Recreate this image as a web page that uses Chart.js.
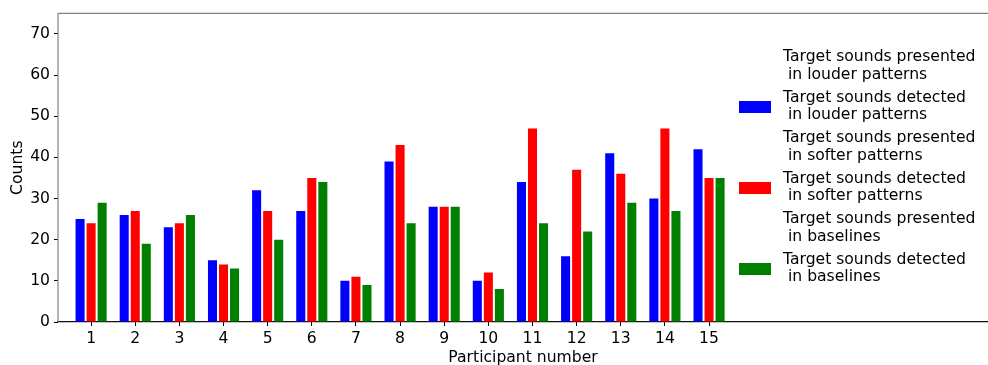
<!DOCTYPE html>
<html>
<head>
<meta charset="utf-8">
<script src="https://cdn.jsdelivr.net/npm/chart.js@4/dist/chart.umd.min.js"></script>
<style>
  html, body { margin: 0; padding: 0; background: #fff; }
  #wrap { position: relative; width: 988px; height: 365px; }
  #legend { position: absolute; left: 739px; top: 48px; font-family: "DejaVu Sans", sans-serif; font-size: 15.6px; color: #000; }
  .item { position: relative; height: 40.6px; }
  .sw { position: absolute; left: 0; top: 12.5px; width: 32px; height: 12px; }
  .txt { position: absolute; left: 44px; top: 0; white-space: pre; line-height: 17.5px; }
</style>
</head>
<body>
<div id="wrap">
  <canvas id="barChart" width="988" height="365"></canvas>
  <div id="legend"></div>
</div>
<script>
  // participants 1..15
  const participants = [1, 2, 3, 4, 5, 6, 7, 8, 9, 10, 11, 12, 13, 14, 15];

  const detectedLouder = [25, 26, 23, 15, 32, 27, 10, 39, 28, 10, 34, 16, 41, 30, 42];
  const detectedSofter = [24, 27, 24, 14, 27, 35, 11, 43, 28, 12, 47, 37, 36, 47, 35];
  const detectedBase   = [29, 19, 26, 13, 20, 34, 9, 24, 28, 8, 24, 22, 29, 27, 35];

  const yTicks = [0, 10, 20, 30, 40, 50, 60, 70];

  const legendLabels = [
    'Target sounds presented\n in louder patterns',
    'Target sounds detected\n in louder patterns',
    'Target sounds presented\n in softer patterns',
    'Target sounds detected\n in softer patterns',
    'Target sounds presented\n in baselines',
    'Target sounds detected\n in baselines'
  ];
  const legendColors = [null, '#0000ff', null, '#ff0000', null, '#008000'];

  const FONT = { family: "'DejaVu Sans'", size: 15.6 };

  function pts(arr) {
    return participants.map((p, i) => ({ x: p, y: arr[i] }));
  }

  // top + left grey spines
  const spines = {
    id: 'spines',
    afterDraw(chart) {
      const ctx = chart.ctx, a = chart.chartArea;
      ctx.save();
      ctx.strokeStyle = '#808080';
      ctx.lineWidth = 1.2;
      ctx.beginPath();
      ctx.moveTo(a.left, a.top);
      ctx.lineTo(a.right, a.top);
      ctx.moveTo(a.left, a.top);
      ctx.lineTo(a.left, a.bottom);
      ctx.stroke();
      ctx.restore();
    }
  };

  const chart_bar = new Chart(document.getElementById('barChart').getContext('2d'), {
    type: 'bar',
    data: {
      datasets: [
        { label: legendLabels[1], data: pts(detectedLouder), backgroundColor: legendColors[1] },
        { label: legendLabels[3], data: pts(detectedSofter), backgroundColor: legendColors[3] },
        { label: legendLabels[5], data: pts(detectedBase), backgroundColor: legendColors[5] }
      ]
    },
    options: {
      responsive: false,
      animation: false,
      layout: { padding: { top: 12, right: 0, left: 0, bottom: 0 } },
      categoryPercentage: 0.75,
      barPercentage: 0.82,
      plugins: { legend: { display: false }, tooltip: { enabled: false } },
      scales: {
        x: {
          type: 'linear',
          offset: false,
          min: 0.25,
          max: 21.32,
          afterBuildTicks: s => { s.ticks = participants.map(v => ({ value: v })); },
          afterFit: s => { s.height = 43; },
          grid: { offset: false, drawOnChartArea: false, drawTicks: true, tickLength: 4, tickColor: '#000' },
          border: { color: '#111', width: 1.2 },
          ticks: { color: '#000', font: FONT, padding: 4, maxRotation: 0, autoSkip: false },
          title: { display: true, text: 'Participant number', color: '#000', font: FONT, padding: { top: 0, bottom: -2 } }
        },
        y: {
          min: 0,
          max: 75,
          afterBuildTicks: s => { s.ticks = yTicks.map(v => ({ value: v })); },
          afterFit: s => { s.width = 58; },
          grid: { drawOnChartArea: false, drawTicks: true, tickLength: 4, tickColor: '#000' },
          border: { display: false },
          ticks: { color: '#000', font: FONT, padding: 4 },
          title: { display: true, text: 'Counts', color: '#000', font: FONT, padding: { top: 9, bottom: 0 } }
        }
      }
    },
    plugins: [spines]
  });

  const legend = document.getElementById('legend');
  legendLabels.forEach((lab, i) => {
    const item = document.createElement('div');
    item.className = 'item';
    if (legendColors[i]) {
      const sw = document.createElement('div');
      sw.className = 'sw';
      sw.style.background = legendColors[i];
      item.appendChild(sw);
    }
    const t = document.createElement('div');
    t.className = 'txt';
    t.textContent = lab;
    item.appendChild(t);
    legend.appendChild(item);
  });
</script>
</body>
</html>
